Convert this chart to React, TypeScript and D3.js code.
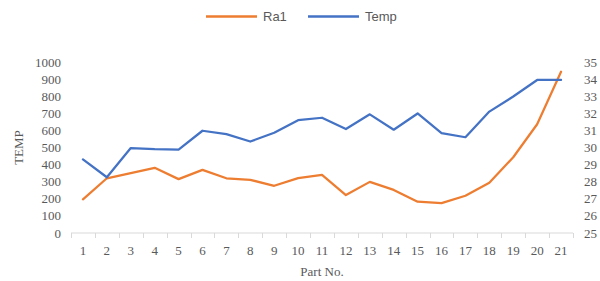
import * as d3 from "d3"

const parts = d3.range(1, 22).map(String)
const ra1 = [197, 320, 350, 381, 315, 369, 320, 311, 276, 321, 340, 222, 299, 252, 183, 175, 218, 294, 443, 636, 943]
const temp = [29.3, 28.26, 29.97, 29.9, 29.88, 30.98, 30.78, 30.35, 30.86, 31.6, 31.74, 31.08, 31.94, 31.04, 31.99, 30.84, 30.6, 32.1, 32.98, 33.95, 33.95]
const leftTicks = d3.range(0, 1001, 100)
const rightTicks = d3.range(25, 36, 1)

const W = 600
const H = 281
const left = 71
const right = 573
const top = 62
const bottom = 233

const serif = "Liberation Serif"
const sans = "Liberation Sans"
const textColor = "#595959"

export default function App() {
  const x = d3.scaleBand().domain(parts).range([left, right])
  const yL = d3.scaleLinear().domain([0, 1000]).range([bottom, top])
  const yR = d3.scaleLinear().domain([25, 35]).range([bottom, top])
  const cx = (i: number) => (x(parts[i]) || 0) + x.bandwidth() / 2

  const raLine = d3.line<number>().x((_, i) => cx(i)).y((d) => yL(d))
  const tempLine = d3.line<number>().x((_, i) => cx(i)).y((d) => yR(d))

  return (
    <svg width={W} height={H} style={{ position: "absolute", left: 0, top: 0, background: "#fff" }}>
      {/* legend */}
      <g fontFamily={sans} fontSize={13} fill={textColor}>
        <line x1={206} x2={257} y1={16.5} y2={16.5} stroke="#ED7D31" strokeWidth={2.5} />
        <text x={263} y={21}>Ra1</text>
        <line x1={308} x2={359} y1={16.5} y2={16.5} stroke="#4472C4" strokeWidth={2.5} />
        <text x={365} y={21}>Temp</text>
      </g>

      {/* left axis labels */}
      <g fontFamily={serif} fontSize={13} fill={textColor} textAnchor="end">
        {leftTicks.map((t) => (
          <text key={t} x={61} y={yL(t)} dy="0.35em">{t}</text>
        ))}
      </g>

      {/* right axis labels */}
      <g fontFamily={serif} fontSize={13} fill={textColor} textAnchor="start">
        {rightTicks.map((t) => (
          <text key={t} x={584} y={yR(t)} dy="0.35em">{t}</text>
        ))}
      </g>

      {/* x axis */}
      <line x1={left} x2={right} y1={bottom} y2={bottom} stroke="#D9D9D9" strokeWidth={1} />
      {d3.range(0, parts.length + 1).map((i) => {
        const tx = Math.round(left + i * x.step()) + 0.5
        return <line key={i} x1={tx} x2={tx} y1={bottom} y2={bottom + 5} stroke="#D9D9D9" />
      })}
      <g fontFamily={serif} fontSize={13} fill={textColor} textAnchor="middle">
        {parts.map((p, i) => (
          <text key={p} x={cx(i)} y={255}>{p}</text>
        ))}
        <text x={(left + right) / 2} y={276}>Part No.</text>
      </g>

      <text
        transform={`translate(23,${(top + bottom) / 2}) rotate(-90)`}
        textAnchor="middle"
        fontFamily={serif}
        fontSize={13}
        fill={textColor}
      >
        TEMP
      </text>

      {/* series */}
      <path d={raLine(ra1) || ""} fill="none" stroke="#ED7D31" strokeWidth={2.25} strokeLinejoin="round" strokeLinecap="round" />
      <path d={tempLine(temp) || ""} fill="none" stroke="#4472C4" strokeWidth={2.25} strokeLinejoin="round" strokeLinecap="round" />
    </svg>
  )
}
